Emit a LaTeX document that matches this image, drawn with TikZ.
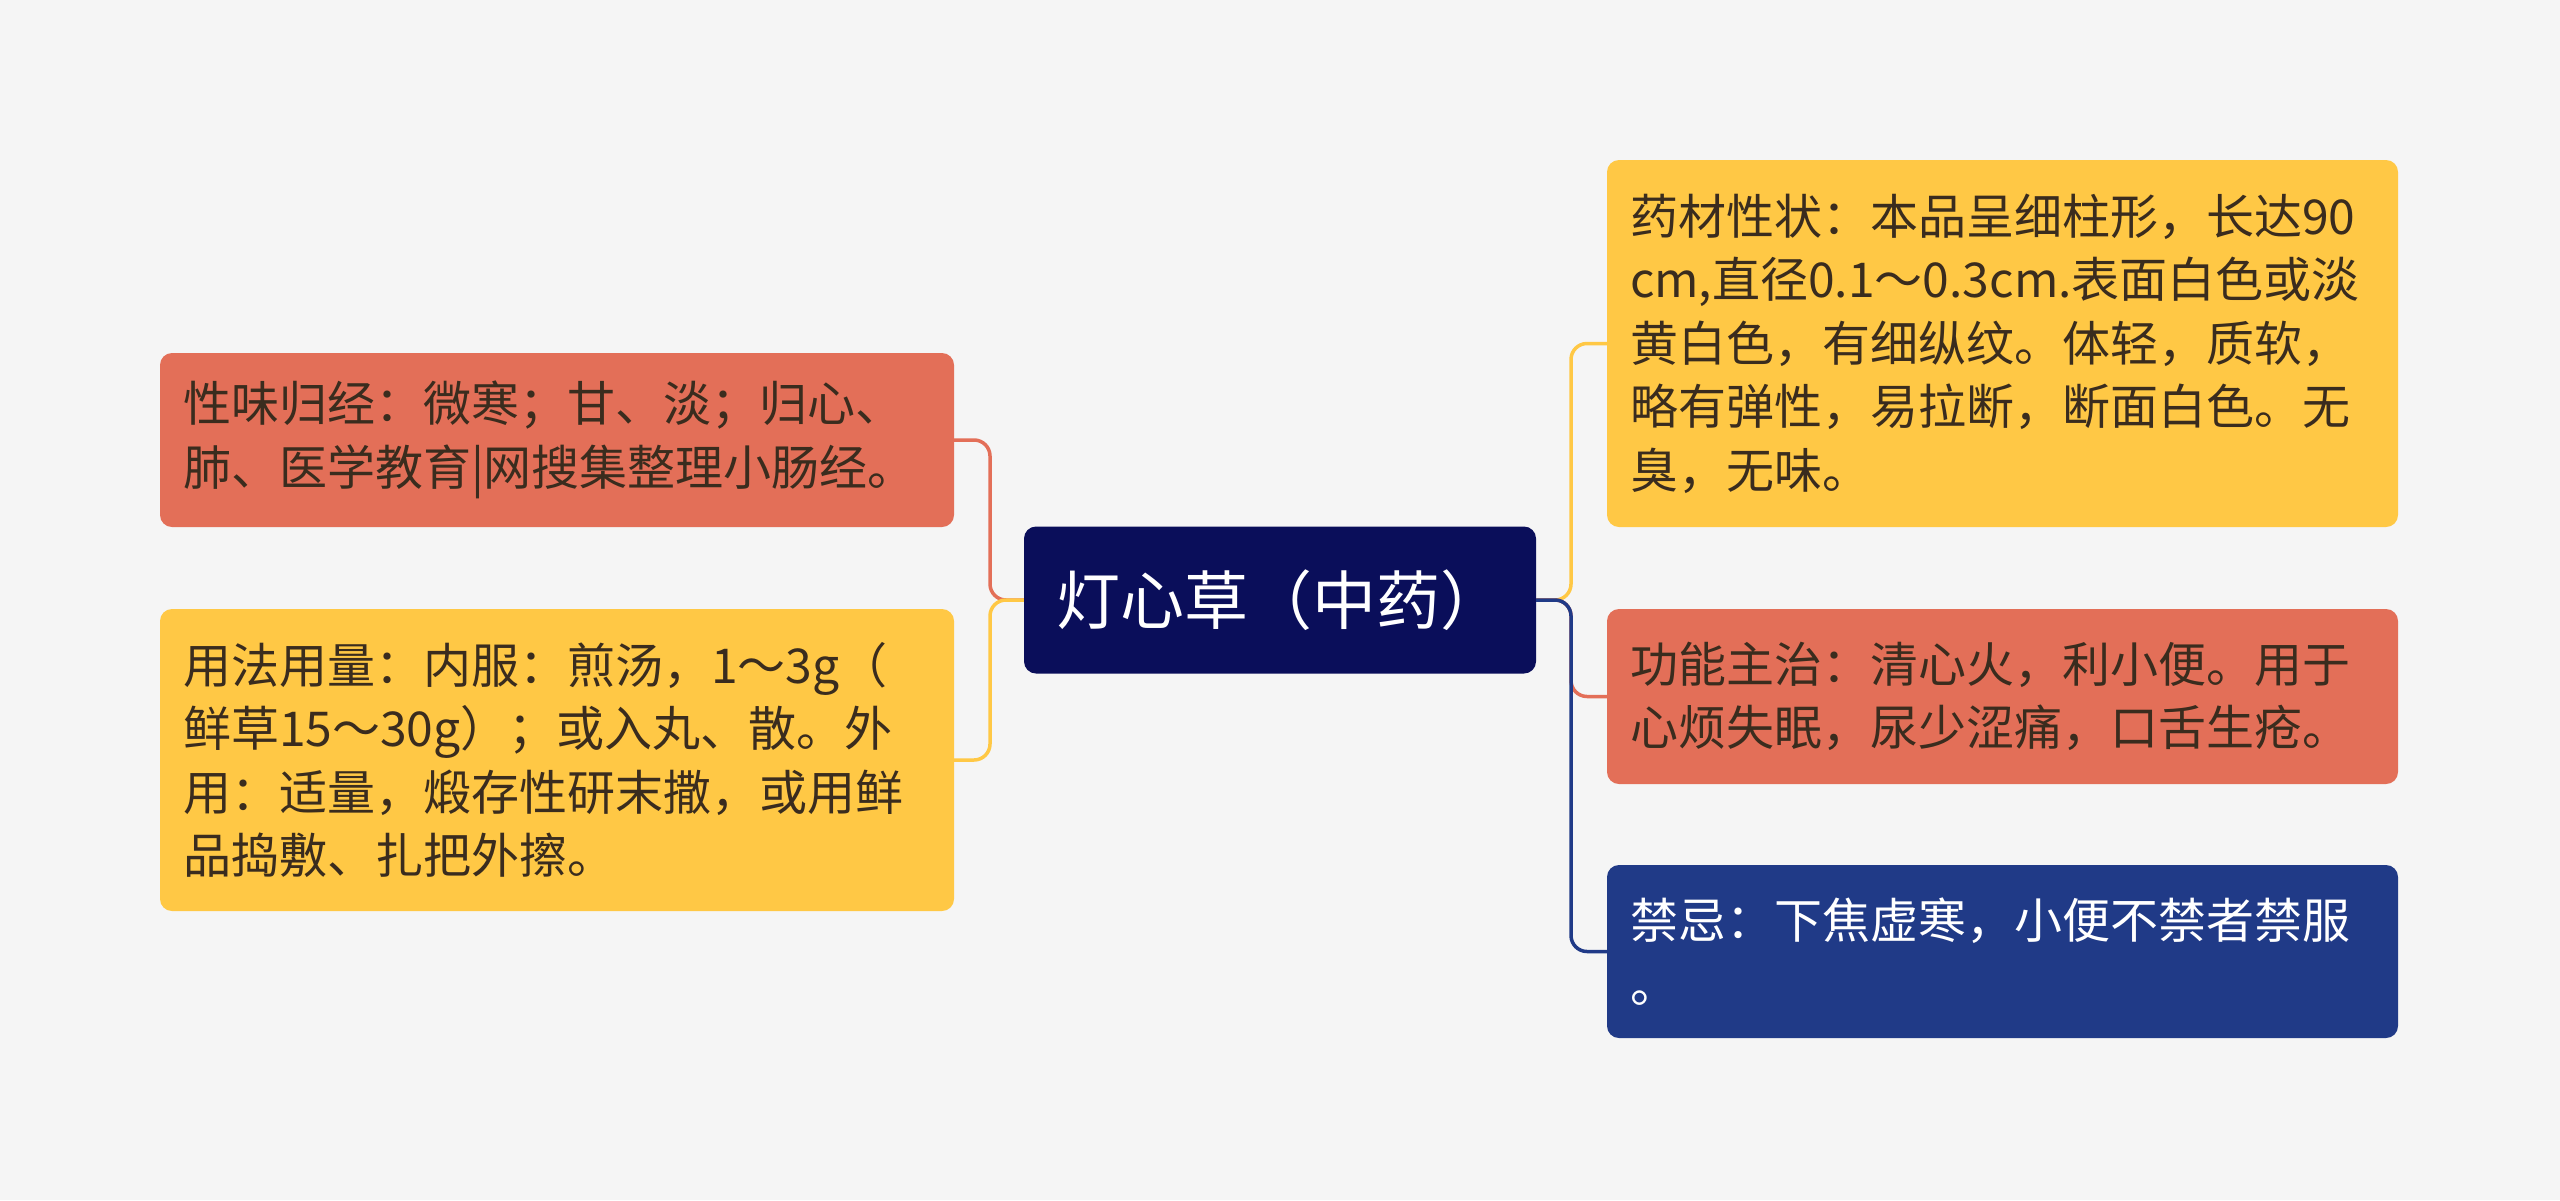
\documentclass[tikz,border=0pt]{standalone}
\usepackage{fontspec}
\setmainfont{Noto Sans CJK SC}
\definecolor{bg}{HTML}{F5F5F5}
\definecolor{cred}{HTML}{E36F58}
\definecolor{cyel}{HTML}{FFC845}
\definecolor{cnavy}{HTML}{0A0E5A}
\definecolor{cblue}{HTML}{203A87}
\definecolor{ctext}{HTML}{3A2C1E}
\tikzset{
  box/.style={rectangle, rounded corners=12pt, inner ysep=0pt, align=left, anchor=center},
  leaf/.style={box, inner xsep=23pt, text=ctext, font=\fontsize{48}{63.5}\selectfont},
  conn/.style={line width=3.5pt, rounded corners=16pt},
}
\begin{document}
\begin{tikzpicture}[x=1pt, y=-1pt]
\useasboundingbox (0,0) rectangle (2560,1200);
\fill[bg] (0,0) rectangle (2560,1200);
% central
\node[box, fill=cnavy, text=white, inner xsep=32pt, text width=448pt, minimum height=147pt,
  font=\fontsize{64}{76}\selectfont] (c) at (1280,600) {灯心草（中药）};
% left
\node[leaf, fill=cred, text width=748pt, minimum height=174pt] (lr) at (557,440)
  {性味归经：微寒；甘、淡；归心、\\肺、医学教育|网搜集整理小肠经。};
\node[leaf, fill=cyel, text width=748pt, minimum height=302pt] (ly) at (557,760)
  {用法用量：内服：煎汤，1～3g（\\鲜草15～30g）；或入丸、散。外\\用：适量，煅存性研末撒，或用鲜\\品捣敷、扎把外擦。};
% right
\node[leaf, fill=cyel, text width=745pt, minimum height=367pt] (ry) at (2002.5,343.5)
  {药材性状：本品呈细柱形，长达90\\cm,直径0.1～0.3cm.表面白色或淡\\黄白色，有细纵纹。体轻，质软，\\略有弹性，易拉断，断面白色。无\\臭，无味。};
\node[leaf, fill=cred, text width=745pt, minimum height=175pt] (rr) at (2002.5,696.5)
  {功能主治：清心火，利小便。用于\\心烦失眠，尿少涩痛，口舌生疮。};
\node[leaf, fill=cblue, text=white, text width=745pt, minimum height=173pt] (rb) at (2002.5,951.5)
  {禁忌：下焦虚寒，小便不禁者禁服\\。};
% connectors left
\coordinate (lt) at (990,600);
\coordinate (rt) at (1571,600);
\draw[conn, cred] (c.west) -- (lt) |- (lr.east);
\draw[conn, cyel] (c.west) -- (lt) |- (ly.east);
% connectors right
\draw[conn, cyel] (c.east) -- (rt) |- (ry.west);
\draw[conn, cred] (c.east) -- (rt) |- (rr.west);
\draw[conn, cblue] (c.east) -- (rt) |- (rb.west);
\end{tikzpicture}
\end{document}
